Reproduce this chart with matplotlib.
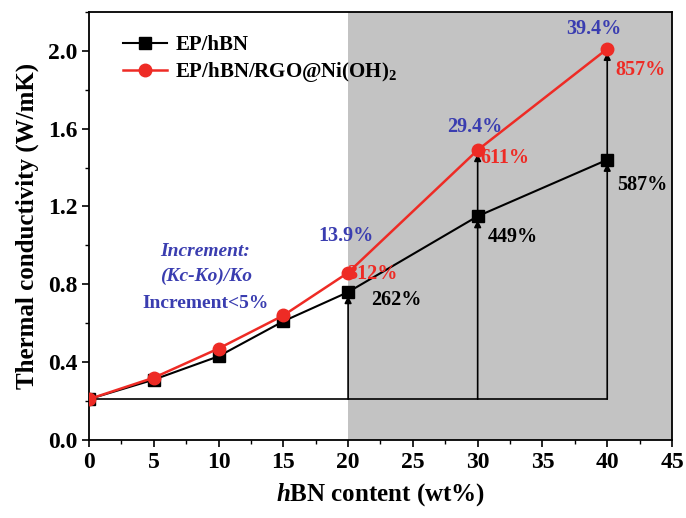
import matplotlib
matplotlib.use("Agg")
import matplotlib.pyplot as plt
from matplotlib.ticker import MultipleLocator

plt.rcParams['font.family'] = ['Liberation Serif', 'DejaVu Serif']
plt.rcParams['mathtext.fontset'] = 'custom'
plt.rcParams['mathtext.rm'] = 'Liberation Serif'
plt.rcParams['mathtext.it'] = 'Liberation Serif:italic'
plt.rcParams['mathtext.bf'] = 'Liberation Serif:bold'
plt.rcParams['mathtext.bfit'] = 'Liberation Serif:bold:italic'

x = [0, 5, 10, 15, 20, 30, 40]
ep_hbn = [0.21, 0.31, 0.43, 0.61, 0.76, 1.15, 1.44]
ep_rgo = [0.21, 0.32, 0.47, 0.64, 0.86, 1.49, 2.01]
labels = ["EP/hBN", "EP/hBN/RGO@Ni(OH)$_\\mathbf{2}$"]
arrow_x = [20, 30, 40]
blue_txt = ["13.9%", "29.4%", "39.4%"]
red_txt = ["312%", "611%", "857%"]
black_txt = ["262%", "449%", "587%"]

RED = "#ee2b25"
BLUE = "#3a3db0"

fig = plt.figure(figsize=(6.86, 5.18), dpi=100)
ax = fig.add_axes([0.1297, 0.1506, 0.8499, 0.8264])
ax.set_xlim(0, 45)
ax.set_ylim(0, 2.2)
ax.axvspan(20, 45, color="#c3c3c3", zorder=0, lw=0)

base = ep_hbn[0]
ax.plot([0, 40], [base, base], color="black", lw=1.2, zorder=2)
for i, xv in enumerate(arrow_x):
    idx = x.index(xv)
    yb = ep_hbn[idx]
    yr = ep_rgo[idx]
    ax.annotate("", xy=(xv, yb - 0.02), xytext=(xv, base),
                arrowprops=dict(arrowstyle="-|>", color="black", lw=1.2, mutation_scale=10, shrinkA=0, shrinkB=0), zorder=2)
    if xv != 20:
        ax.annotate("", xy=(xv, yr - 0.02), xytext=(xv, yb),
                    arrowprops=dict(arrowstyle="-|>", color="black", lw=1.2, mutation_scale=10, shrinkA=0, shrinkB=0), zorder=2)

ax.plot(x, ep_hbn, color="black", marker="s", ms=8, lw=1.5, label=labels[0], zorder=3)
ax.plot(x, ep_rgo, color=RED, marker="o", ms=9, lw=1.8, label=labels[1], zorder=4)

fs = 14.5
blue_pos = [(19.8, 1.05), (29.8, 1.61), (39.0, 2.11)]
red_pos = [(21.9, 0.855), (32.1, 1.45), (42.6, 1.90)]
black_pos = [(23.7, 0.72), (32.7, 1.045), (42.7, 1.31)]
for (px, py), t in zip(blue_pos, blue_txt):
    ax.text(px, py, t, color=BLUE, fontsize=fs, fontweight="bold", ha="center", va="center", zorder=5)
for (px, py), t in zip(red_pos, red_txt):
    ax.text(px, py, t, color=RED, fontsize=fs, fontweight="bold", ha="center", va="center", zorder=5)
for (px, py), t in zip(black_pos, black_txt):
    ax.text(px, py, t, color="black", fontsize=fs, fontweight="bold", ha="center", va="center", zorder=5)

ax.text(9.0, 0.97, "Increment:", color=BLUE, fontsize=14, fontweight="bold", style="italic", ha="center", va="center")
ax.text(9.0, 0.84, "(Kc-Ko)/Ko", color=BLUE, fontsize=14, fontweight="bold", style="italic", ha="center", va="center")
ax.text(9.0, 0.70, "Increment<5%", color=BLUE, fontsize=14, fontweight="bold", ha="center", va="center")

leg = ax.legend(loc="upper left", bbox_to_anchor=(0.03, 0.985), frameon=False,
                handlelength=2.1, handletextpad=0.4, borderaxespad=0.4, labelspacing=0.25,
                prop={"weight": "bold", "size": 15})

ax.xaxis.set_major_locator(MultipleLocator(5))
ax.xaxis.set_minor_locator(MultipleLocator(2.5))
ax.yaxis.set_major_locator(MultipleLocator(0.4))
ax.yaxis.set_minor_locator(MultipleLocator(0.2))
ax.tick_params(which="major", direction="out", length=5, width=1.2, labelsize=17)
ax.tick_params(which="minor", direction="out", length=3, width=1.0)
for lab in ax.get_xticklabels() + ax.get_yticklabels():
    lab.set_fontweight("bold")
ax.set_yticks([0, 0.4, 0.8, 1.2, 1.6, 2.0])
ax.set_yticklabels(["0.0", "0.4", "0.8", "1.2", "1.6", "2.0"], fontweight="bold")
for s in ax.spines.values():
    s.set_linewidth(1.3)

ax.set_xlabel("$\\mathbfit{h}$BN content (wt%)", fontsize=18, fontweight="bold", labelpad=6)
ax.set_ylabel("Thermal conductivity (W/mK)", fontsize=18, fontweight="bold", labelpad=6)

fig.savefig("out.png", dpi=100)
